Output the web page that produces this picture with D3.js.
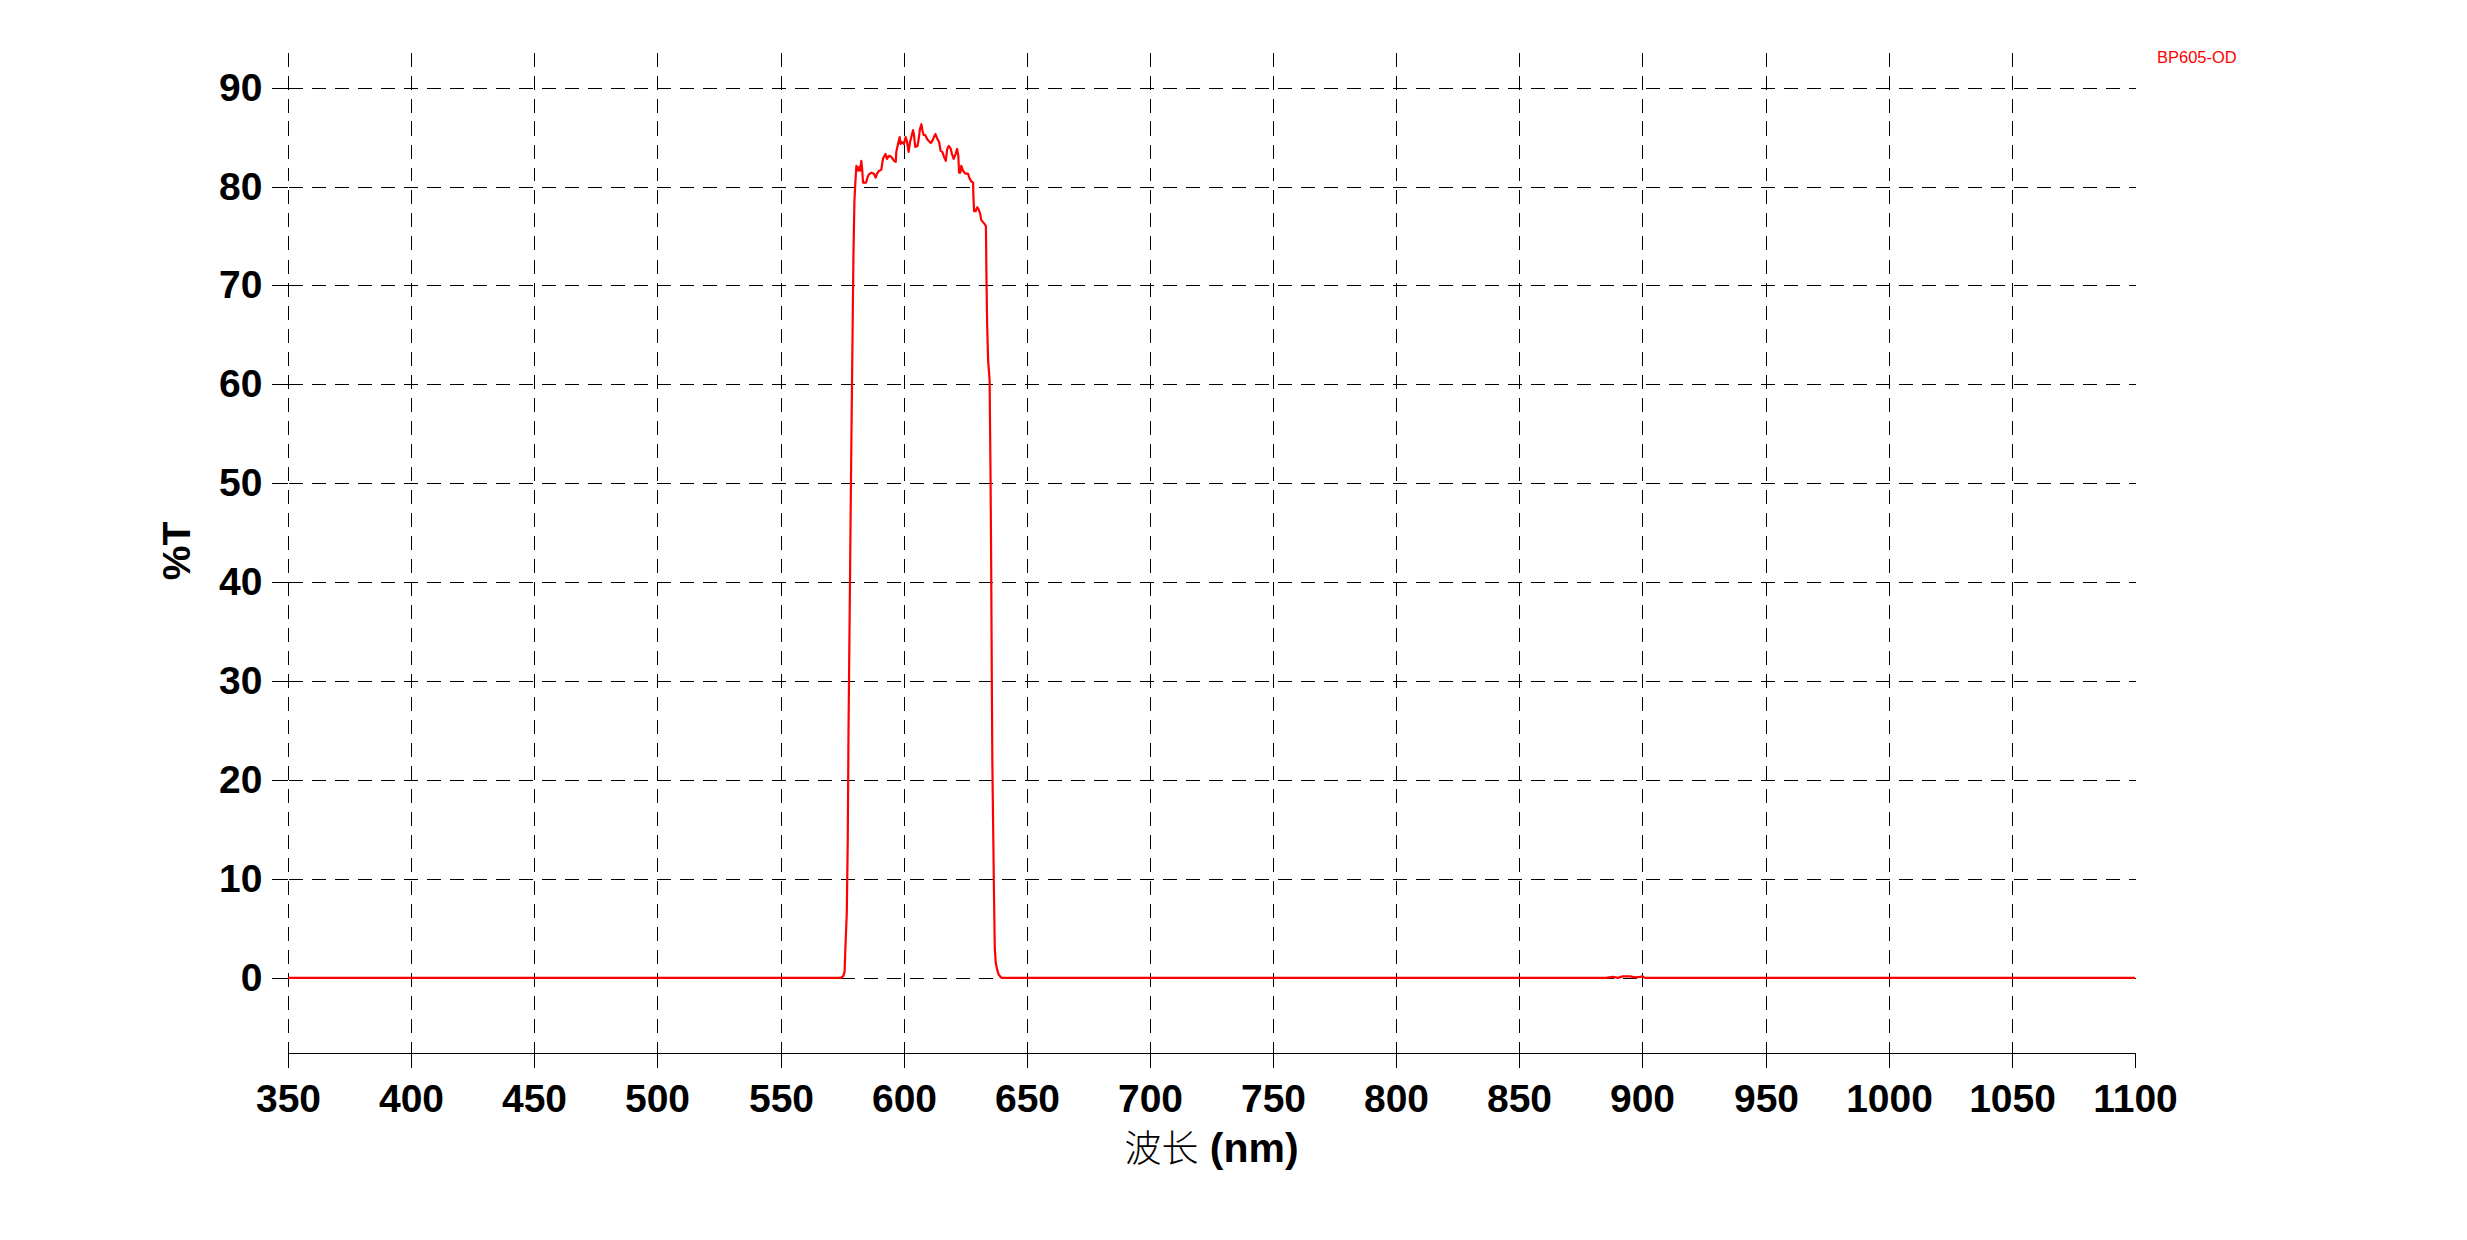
<!DOCTYPE html>
<html>
<head>
<meta charset="utf-8">
<script src="https://cdn.jsdelivr.net/npm/d3@7"></script>
<style>
  html, body { margin: 0; padding: 0; background: #fff; }
  svg { display: block; }
</style>
</head>
<body>
<script>
// ---- Data ----
const wavelengths = [
  350, 574.5, 575.5, 576.0, 576.4, 576.9, 577.3, 577.6, 578.0, 578.4, 578.8, 579.2, 579.6, 580.0, 580.4,
  580.8, 581.5, 582.0, 582.4, 582.8, 583.2, 583.5, 584.7, 585.3, 585.8, 586.9, 587.9, 588.6, 589.2, 590.0,
  590.9, 591.6, 592.6, 593.2, 594.0, 595.0, 596.1, 596.8, 597.0, 597.7, 598.4, 598.7, 599.3, 600.1, 600.8,
  601.4, 602.0, 602.6, 603.1, 603.8, 604.2, 604.7, 605.6, 606.1, 606.6, 607.2, 607.6, 608.1, 608.8, 609.5,
  610.2, 611.0, 611.6, 612.3, 612.9, 613.7, 614.4, 615.0, 615.7, 616.4, 617.1, 617.7, 618.3, 619.1, 619.6,
  620.3, 621.1, 621.7, 622.2, 622.5, 623.0, 623.4, 624.1, 625.0, 626.1, 626.8, 627.5, 628.2, 628.3, 628.6,
  629.2, 629.9, 630.6, 631.1, 631.5, 632.2, 632.9, 633.4, 633.6, 633.9, 634.3, 634.9, 635.3, 635.5, 635.8,
  636.0, 636.4, 636.7, 637.0, 637.4, 638.0, 638.6, 639.7,
  885, 888, 890, 892, 895, 897, 899, 900, 901, 1100
];
const transmission = [
  0, 0, 0.2, 0.6, 3.5, 6.5, 14, 25, 35, 45, 55, 64, 73, 78.5, 80.5,
  82.1, 81.6, 82.0, 81.6, 82.6, 81.6, 80.4, 80.4, 80.9, 81.2, 81.4, 81.3, 80.9, 81.3, 81.6,
  81.7, 82.8, 83.3, 82.8, 83.1, 83.0, 82.6, 82.5, 83.5, 84.3, 85.0, 84.3, 84.5, 84.3, 85.0,
  84.5, 83.5, 84.5, 85.0, 85.7, 85.2, 84.0, 84.1, 84.8, 85.8, 86.3, 85.7, 85.2, 85.2, 84.8,
  84.6, 84.4, 84.6, 85.0, 85.3, 84.8, 84.5, 83.6, 83.5, 83.0, 82.6, 83.8, 84.1, 83.8, 83.3,
  82.8, 83.3, 83.8, 83.1, 81.4, 81.4, 82.1, 81.6, 81.3, 81.3, 80.8, 80.5, 80.4, 79.1, 77.5,
  77.5, 77.9, 77.6, 77.2, 76.6, 76.4, 76.2, 76.0, 71.2, 66.0, 62.4, 60.4, 50.0, 43.3, 30.0,
  22.0, 14.0, 8.0, 3.0, 1.5, 0.8, 0.3, 0,
  0, 0.1, 0, 0.15, 0.15, 0.05, 0.1, 0.15, 0, 0
];
const xTicks = [350, 400, 450, 500, 550, 600, 650, 700, 750, 800, 850, 900, 950, 1000, 1050, 1100];
const yTicks = [0, 10, 20, 30, 40, 50, 60, 70, 80, 90];
const xGridTicks = [350, 400, 450, 500, 550, 600, 650, 700, 750, 800, 850, 900, 950, 1000, 1050];
const xDomain = [350, 1100];
const yDomain = [-7.6, 93.6];
const seriesName = "BP605-OD";
const xTitleCJK = "波长";
const xTitleLatin = " (nm)";
const yTitle = "%T";

// ---- Layout ----
const W = 2467, H = 1240;
const x = d3.scaleLinear().domain(xDomain).range([288, 2135]);
const y = d3.scaleLinear().domain(yDomain).range([1053, 52]);
const px = v => Math.round(v) + 0.5;

const svg = d3.select("body").append("svg")
  .attr("width", W).attr("height", H)
  .attr("viewBox", `0 0 ${W} ${H}`);

const fontLatin = "'Liberation Sans', Arial, sans-serif";

// Grid
const grid = svg.append("g").attr("stroke", "#000").attr("stroke-width", 1)
  .attr("stroke-dasharray", "14,9").attr("fill", "none").attr("shape-rendering", "crispEdges");
grid.selectAll("line.v").data(xGridTicks).join("line").attr("class", "v")
  .attr("x1", d => px(x(d))).attr("x2", d => px(x(d)))
  .attr("y1", px(y(yDomain[1]))).attr("y2", px(y(yDomain[0])));
grid.selectAll("line.h").data(yTicks).join("line").attr("class", "h")
  .attr("x1", px(x(xDomain[0]))).attr("x2", px(x(xDomain[1])))
  .attr("y1", d => px(y(d))).attr("y2", d => px(y(d)));

// X axis
const xAxis = svg.append("g").attr("transform", `translate(0,${Math.round(y(yDomain[0]))})`)
  .call(d3.axisBottom(x).tickValues(xTicks).tickFormat(d3.format("d"))
    .tickSize(15).tickSizeOuter(0).tickPadding(16));
xAxis.selectAll(".tick").attr("transform", d => `translate(${Math.round(x(d)) + 0.5},0)`);
xAxis.select(".domain").attr("stroke", "#000").attr("stroke-width", 1).attr("shape-rendering", "crispEdges");
xAxis.selectAll(".tick line").attr("stroke", "#000").attr("stroke-width", 1).attr("shape-rendering", "crispEdges");
xAxis.selectAll(".tick text").attr("font-family", fontLatin).attr("font-weight", "bold")
  .attr("font-size", 39).attr("fill", "#000");

// Y axis
const yAxis = svg.append("g").attr("transform", `translate(${Math.round(x(xDomain[0]))},0)`)
  .call(d3.axisLeft(y).tickValues(yTicks).tickFormat(d3.format("d"))
    .tickSize(16).tickSizeOuter(0).tickPadding(9.6));
yAxis.selectAll(".tick").attr("transform", d => `translate(0,${Math.round(y(d)) + 0.5})`);
yAxis.select(".domain").remove();
yAxis.selectAll(".tick line").attr("stroke", "#000").attr("stroke-width", 1).attr("shape-rendering", "crispEdges");
yAxis.selectAll(".tick text").attr("font-family", fontLatin).attr("font-weight", "bold")
  .attr("font-size", 39).attr("fill", "#000");

// Series line
const pts = wavelengths.map((w, i) => [w, transmission[i]]);
svg.append("path").datum(pts)
  .attr("fill", "none").attr("stroke", "#ff0000").attr("stroke-width", 2.2)
  .attr("stroke-linejoin", "round")
  .attr("d", d3.line().x(d => x(d[0])).y(d => y(d[1])));

// Series label
svg.append("text").attr("x", 2157).attr("y", 63)
  .attr("font-family", fontLatin).attr("font-size", 16.5).attr("fill", "#ff0000")
  .text(seriesName);

// X title
const xt = svg.append("text").attr("x", (x(xDomain[0]) + x(xDomain[1])) / 2).attr("y", 1162)
  .attr("text-anchor", "middle").attr("fill", "#000");
xt.append("tspan").attr("font-family", "'Noto Sans CJK SC', sans-serif").attr("font-weight", 300)
  .attr("font-size", 37).text(xTitleCJK);
xt.append("tspan").attr("font-family", fontLatin).attr("font-weight", "bold")
  .attr("font-size", 41).text(xTitleLatin);

// Y title
svg.append("text").attr("transform", "translate(190,551) rotate(-90)")
  .attr("text-anchor", "middle").attr("font-family", fontLatin).attr("font-weight", "bold")
  .attr("font-size", 39).attr("fill", "#000").text(yTitle);
</script>
</body>
</html>
